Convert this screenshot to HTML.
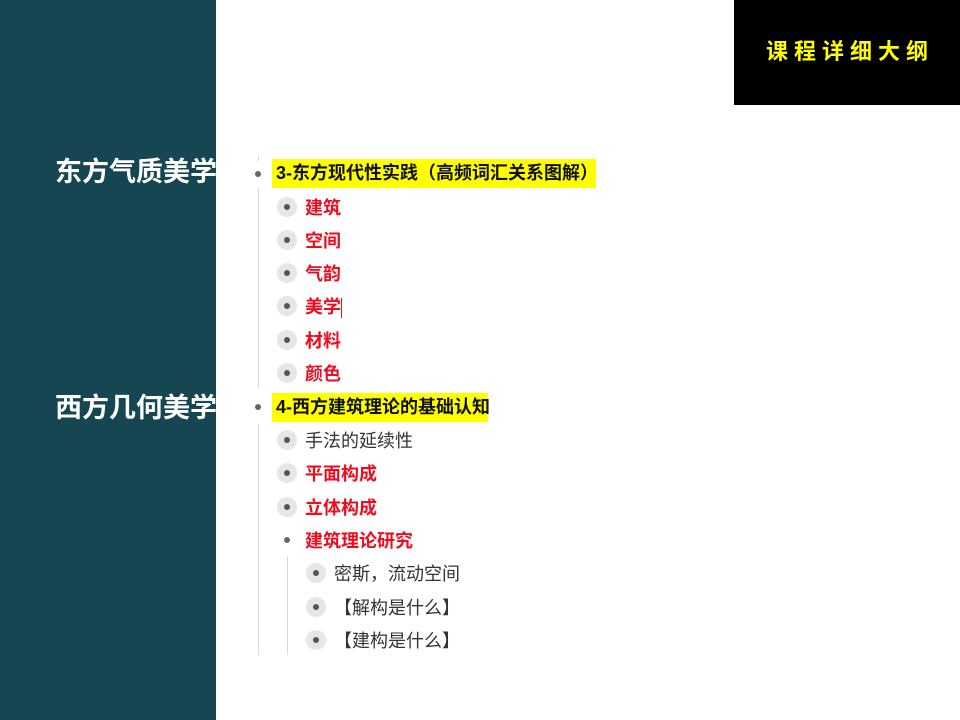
<!DOCTYPE html>
<html><head><meta charset="utf-8"><style>
*{margin:0;padding:0;box-sizing:border-box}
body{width:960px;height:720px;position:relative;background:#fff;overflow:hidden;font-family:"Liberation Sans","Noto Sans CJK SC",sans-serif}
.panel{position:absolute;left:0;top:0;width:216px;height:720px;background:#164651;overflow:hidden}
.lab{position:absolute;left:55px;color:#fff;font-weight:bold;font-size:27px;line-height:30px;white-space:nowrap}
.black{position:absolute;left:734px;top:0;width:226px;height:105px;background:#000}
.title{position:absolute;left:766px;top:38px;color:#ffff00;font-weight:bold;font-size:22px;letter-spacing:6px;line-height:28px;white-space:nowrap}
.vl{position:absolute;width:1px;background:#d8d8d8}
.dot{position:absolute;width:6px;height:6px;border-radius:50%;background:#666}
.circ{position:absolute;width:20px;height:20px;border-radius:50%;background:#e6e6e6}
.circ::after{content:"";position:absolute;left:7px;top:7px;width:6px;height:6px;border-radius:50%;background:#555}
.t{position:absolute;font-size:18px;line-height:22px;white-space:nowrap}
.r{color:#ee0c1f;font-weight:bold}
.k{color:#333}
.hl{position:absolute;background:#ffff00;color:#111;font-weight:bold;font-size:18px;line-height:29px;padding-left:4px;white-space:nowrap}
</style></head><body>
<div class="panel"></div>
<div class="lab" style="top:157px">东方气质美学</div>
<div class="lab" style="top:393px">西方几何美学</div>
<div class="black"></div>
<div class="title">课程详细大纲</div>

<div class="vl" style="left:258px;top:155px;height:6px"></div>
<div class="vl" style="left:258px;top:188px;height:200px"></div>
<div class="vl" style="left:258px;top:424px;height:231px"></div>
<div class="vl" style="left:287px;top:556px;height:99px"></div>

<div class="dot" style="left:255px;top:171px"></div>
<div class="hl" style="left:272px;top:159px;width:324px">3-东方现代性实践（高频词汇关系图解）</div>

<div class="circ" style="left:277px;top:197px"></div><div class="t r" style="left:305px;top:197px">建筑</div>
<div class="circ" style="left:277px;top:230px"></div><div class="t r" style="left:305px;top:230px">空间</div>
<div class="circ" style="left:277px;top:263px"></div><div class="t r" style="left:305px;top:263px">气韵</div>
<div class="circ" style="left:277px;top:296px"></div><div class="t r" style="left:305px;top:296px">美学<span style="display:inline-block;width:1px;height:20px;background:#ee0c1f;vertical-align:middle"></span></div>
<div class="circ" style="left:277px;top:330px"></div><div class="t r" style="left:305px;top:330px">材料</div>
<div class="circ" style="left:277px;top:363px"></div><div class="t r" style="left:305px;top:363px">颜色</div>

<div class="dot" style="left:255px;top:404px"></div>
<div class="hl" style="left:272px;top:393px;width:216px">4-西方建筑理论的基础认知</div>

<div class="circ" style="left:277px;top:430px"></div><div class="t k" style="left:305px;top:430px">手法的延续性</div>
<div class="circ" style="left:277px;top:463px"></div><div class="t r" style="left:305px;top:463px">平面构成</div>
<div class="circ" style="left:277px;top:497px"></div><div class="t r" style="left:305px;top:497px">立体构成</div>
<div class="dot" style="left:284px;top:537px"></div><div class="t r" style="left:305px;top:530px">建筑理论研究</div>

<div class="circ" style="left:306px;top:563px"></div><div class="t k" style="left:334px;top:563px">密斯，流动空间</div>
<div class="circ" style="left:306px;top:597px"></div><div class="t k" style="left:334px;top:597px">【解构是什么】</div>
<div class="circ" style="left:306px;top:630px"></div><div class="t k" style="left:334px;top:630px">【建构是什么】</div>
</body></html>
